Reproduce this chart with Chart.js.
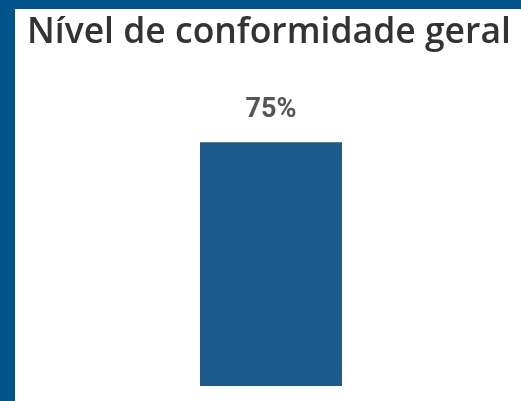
<!DOCTYPE html>
<html>
<head>
<meta charset="utf-8">
<script src="https://cdn.jsdelivr.net/npm/chart.js@4.4.0/dist/chart.umd.min.js"></script>
<style>
    html, body { margin: 0; padding: 0; }
    body { width: 521px; height: 401px; background: #00548c; position: relative; overflow: hidden; }
    #panel { position: absolute; left: 15px; top: 9px; width: 506px; height: 392px; background: #ffffff; }
</style>
</head>
<body>
<div id="panel"><canvas id="conformChart"></canvas></div>
<script>
/* ----- Data ----- */
const categories = ['Geral'];
const conformity = [75];
const yTicks = [0, 100];

/* value label above the bar */
const valueLabels = {
    id: 'valueLabels',
    afterDatasetsDraw(chart) {
        const ctx = chart.ctx;
        const meta = chart.getDatasetMeta(0);
        ctx.save();
        ctx.font = '700 27px Roboto';
        ctx.fillStyle = '#555555';
        ctx.textAlign = 'center';
        ctx.textBaseline = 'alphabetic';
        meta.data.forEach((bar, i) => {
            ctx.fillText(conformity[i] + '%', bar.x, bar.y - 25);
        });
        ctx.restore();
    }
};

new Chart(document.getElementById('conformChart'), {
    type: 'bar',
    data: {
        labels: categories,
        datasets: [{
            label: 'Nível de conformidade geral',
            data: conformity,
            backgroundColor: '#1d5a8c',
            borderWidth: 0,
            barPercentage: 0.291,
            categoryPercentage: 1
        }]
    },
    options: {
        responsive: true,
        maintainAspectRatio: false,
        animation: false,
        layout: { padding: { left: 12, right: 6, top: 0, bottom: 15 } },
        plugins: {
            legend: { display: false },
            tooltip: { enabled: false },
            title: {
                display: true,
                text: 'Nível de conformidade geral',
                align: 'start',
                color: '#333333',
                font: { family: 'Open Sans', size: 35.5, weight: '600' },
                padding: { top: 3, bottom: 6.4 }
            }
        },
        scales: {
            x: { display: false },
            y: { display: false, min: yTicks[0], max: yTicks[1] }
        }
    },
    plugins: [valueLabels]
});
</script>
</body>
</html>
